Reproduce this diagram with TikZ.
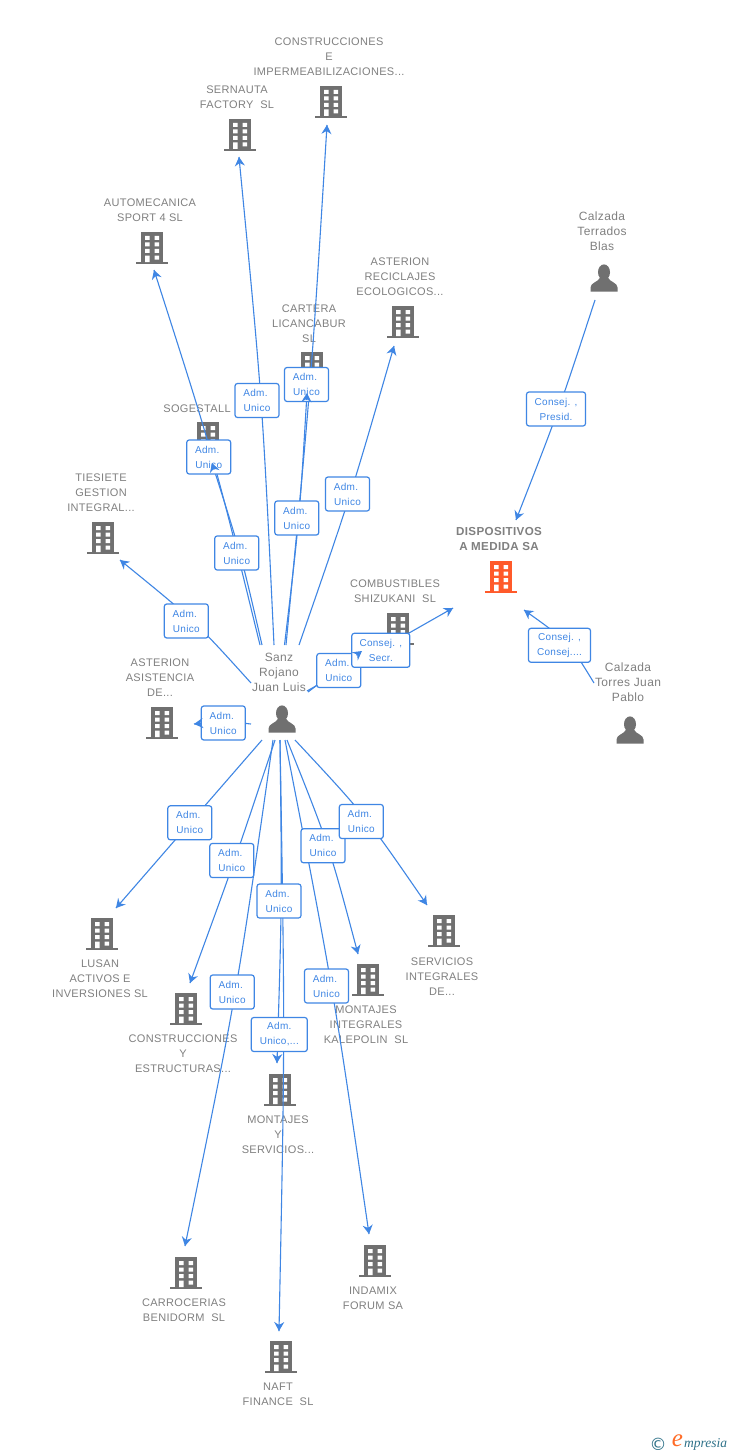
\documentclass[tikz,border=0pt]{standalone}
\usepackage{fontspec}
\usetikzlibrary{arrows.meta,calc}
\newfontfamily\lblfont[LetterSpace=3]{Liberation Sans}
\newfontfamily\logofont{Liberation Serif}
\newfontfamily\copyfont{DejaVu Sans}
\definecolor{lnkblue}{HTML}{3F86E4}
\definecolor{icongray}{HTML}{707070}
\definecolor{lblgray}{HTML}{808080}
\definecolor{iconorange}{HTML}{FF5A2A}
\definecolor{logoteal}{HTML}{2F7289}
\pgfdeclarelayer{lines}
\pgfdeclarelayer{boxes}
\pgfdeclarelayer{tips}
\pgfsetlayers{main,lines,boxes,tips}
\tikzset{
  lbl/.style={text=lblgray,align=center,inner sep=0pt,yshift=-1pt,font=\lblfont\fontsize{11}{15}\selectfont},
  perlbl/.style={text=lblgray,align=center,inner sep=0pt,font=\lblfont\fontsize{12}{15}\selectfont},
  mainlbl/.style={text=lblgray,align=center,inner sep=0pt,yshift=-1pt,font=\lblfont\bfseries\fontsize{11.6}{15}\selectfont},
  relbox/.style={draw=lnkblue,line width=1.2pt,fill=white,rounded corners=2.5pt,minimum height=34pt,inner sep=0pt,text=lnkblue,align=center,font=\lblfont\fontsize{10}{15}\selectfont,execute at begin node=\rule{0pt}{10pt}},
  linkline/.style={draw=lnkblue,line width=1.1pt},
  linktip/.style={draw=lnkblue,line width=1.1pt,-{Stealth[length=9pt,width=10pt,inset=3pt]}},
}
\newcommand{\bldg}[4]{% name, x, y, colour
  \coordinate (#1) at (#2,#3);
  \begin{scope}[shift={(#2,#3)}]
    \fill[#4] (-11,-16) rectangle (11,14);
    \fill[#4] (-16,14) rectangle (16,16);
    \fill[white] (-7,-12) rectangle (-2.5,-8) (2.5,-12) rectangle (7,-8)
      (-7,-5.5) rectangle (-2.5,-1.5) (2.5,-5.5) rectangle (7,-1.5)
      (-7,1) rectangle (-2.5,5) (2.5,1) rectangle (7,5)
      (-7,7.5) rectangle (-2.5,14) (2.5,7.5) rectangle (7,11.5);
  \end{scope}}
\newcommand{\persona}[3]{% name, x, y
  \coordinate (#1) at (#2,#3);
  \begin{scope}[shift={(#2,#3)}]
    \fill[icongray] (0,-5.8) ellipse (6 and 7.8);
    \fill[icongray] (-13.5,13.5) -- (-13.5,9.5) .. controls (-13.5,4.5) and (-6,4.5) .. (-3.5,-1)
      -- (3.5,-1) .. controls (6,4.5) and (13.5,4.5) .. (13.5,9.5) -- (13.5,13.5) -- cycle;
  \end{scope}}
\newcommand{\lnk}[7]{% id, start, control, end, box centre, box width, text
  \coordinate (#1s) at (#2);
  \coordinate (#1c) at (#3);
  \coordinate (#1e) at (#4);
  \begin{pgfonlayer}{lines}
    \draw[linkline] (#1s) .. controls (#1c) .. (#1e);
  \end{pgfonlayer}
  \begin{pgfonlayer}{boxes}
    \node[relbox,minimum width=#6] (#1box) at (#5) {#7};
  \end{pgfonlayer}
  \begin{pgfonlayer}{tips}
    \draw[linktip] ($(#1e)!7pt!(#1c)$) -- (#1e);
  \end{pgfonlayer}}
\newcommand{\au}{Adm.\hspace*{3pt}\\Unico}
\begin{document}
\begin{tikzpicture}[x=1pt,y=-1pt]
\fill[white] (0,0) rectangle (728,1455);
\useasboundingbox (0,0) rectangle (728,1455);

% companies
\bldg{bConstr}{331}{102}{icongray}
\bldg{bSern}{240}{135}{icongray}
\bldg{bAuto}{152}{248}{icongray}
\bldg{bRecic}{403}{322}{icongray}
\bldg{bCart}{312}{368}{icongray}
\bldg{bSoge}{208}{438}{icongray}
\bldg{bTies}{103}{538}{icongray}
\bldg{bAsis}{162}{723}{icongray}
\bldg{bComb}{398}{629}{icongray}
\bldg{bDisp}{501}{577}{iconorange}
\bldg{bLusan}{102}{934}{icongray}
\bldg{bConY}{186}{1009}{icongray}
\bldg{bMonY}{280}{1090}{icongray}
\bldg{bCarr}{186}{1273}{icongray}
\bldg{bNaft}{281}{1357}{icongray}
\bldg{bInda}{375}{1261}{icongray}
\bldg{bMonI}{368}{980}{icongray}
\bldg{bServ}{444}{931}{icongray}
% people
\persona{pSanz}{282}{719}
\persona{pTerr}{604}{278}
\persona{pTorr}{630}{730}

% labels
\node[lbl] (tConstr) at (329,56) {CONSTRUCCIONES\\E\\IMPERMEABILIZACIONES...};
\node[lbl] (tSern) at (237,96.5) {SERNAUTA\\FACTORY~~SL};
\node[lbl] (tAuto) at (150,209.5) {AUTOMECANICA\\SPORT 4 SL};
\node[lbl] (tRecic) at (400,276) {ASTERION\\RECICLAJES\\ECOLOGICOS...};
\node[lbl] (tCart) at (309,323) {CARTERA\\LICANCABUR\\SL};
\node[lbl] (tSoge) at (197,408) {SOGESTALL};
\node[lbl] (tTies) at (101,492) {TIESIETE\\GESTION\\INTEGRAL...};
\node[lbl] (tAsis) at (160,677) {ASTERION\\ASISTENCIA\\DE...};
\node[lbl] (tComb) at (395,590.5) {COMBUSTIBLES\\SHIZUKANI~~SL};
\node[mainlbl] (tDisp) at (499,538.5) {DISPOSITIVOS\\A MEDIDA SA};
\node[perlbl] (tTerr) at (602,231) {Calzada\\Terrados\\Blas};
\node[perlbl] (tTorr) at (628,682) {Calzada\\Torres Juan\\Pablo};
\node[perlbl] (tSanz) at (279,672) {Sanz\\Rojano\\Juan Luis};
\node[lbl] (tLusan) at (100,978) {LUSAN\\ACTIVOS E\\INVERSIONES SL};
\node[lbl] (tConY) at (183,1053) {CONSTRUCCIONES\\Y\\ESTRUCTURAS...};
\node[lbl] (tMonY) at (278,1134) {MONTAJES\\Y\\SERVICIOS...};
\node[lbl] (tCarr) at (184,1309.5) {CARROCERIAS\\BENIDORM~~SL};
\node[lbl] (tNaft) at (278,1393.5) {NAFT\\FINANCE~~SL};
\node[lbl] (tInda) at (373,1297.5) {INDAMIX\\FORUM SA};
\node[lbl] (tMonI) at (366,1024) {MONTAJES\\INTEGRALES\\KALEPOLIN~~SL};
\node[lbl] (tServ) at (442,976) {SERVICIOS\\INTEGRALES\\DE...};

% connectors
\lnk{a1}{286,645}{311,385}{327,125}{306.5,384.5}{44pt}{\au}
\lnk{a2}{274,645}{262.5,401}{239,157}{257,400.5}{44pt}{\au}
\lnk{a3}{260,645}{214,457}{154,270}{208.7,457}{44pt}{\au}
\lnk{a4}{262,645}{241,554}{212,463}{236.7,553}{44pt}{\au}
\lnk{a5}{284.5,645}{299.5,519}{307,393}{296.8,518}{44pt}{\au}
\lnk{a6}{299,645}{351,495}{394,346}{347.5,494}{44pt}{\au}
\lnk{a7}{251,683}{195,621}{120,560}{186.3,621}{44pt}{\au}
\lnk{a8}{251,724}{223,721}{194,724}{223.3,723}{44pt}{\au}
\lnk{a9}{308,692}{335,671}{362,651}{338.8,670.5}{44pt}{\au}
\lnk{d1}{307,691}{380,650}{453,608}{380.8,650.3}{58pt}{Consej. ,\\Secr.}
\lnk{d2}{595,300}{559,410}{516,520}{556,409}{59pt}{Consej. ,\\Presid.}
\lnk{d3}{594,683}{569,642}{524,610}{559.5,645.3}{62pt}{Consej. ,\\Consej....}
\lnk{b1}{262,740}{189,824}{116,908}{189.8,822.8}{44pt}{\au}
\lnk{b2}{275,740}{235,860}{190,983}{231.8,860.5}{44pt}{\au}
\lnk{b3}{273,740}{237,993}{185,1246}{232.2,992}{44pt}{\au}
\lnk{b4}{280,740}{285,1035}{279,1331}{279.3,1034.5}{56pt}{Adm.\\Unico,...}
\lnk{b5}{280,740}{282,901}{277,1063}{279,901}{44pt}{\au}
\lnk{b6}{285,740}{333,987}{369,1234}{326.5,986}{44pt}{\au}
\lnk{b7}{287,740}{329,845}{358,954}{323,845.8}{44pt}{\au}
\lnk{b8}{295,740}{365,815}{427,905}{361.3,821.5}{44pt}{\au}

% logo
\node[inner sep=0pt,text=logoteal,font=\copyfont\fontsize{17}{17}\selectfont] (logoc) at (658,1444) {©};
\node[inner sep=0pt,text=iconorange!90!yellow,font=\logofont\itshape\fontsize{25}{25}\selectfont] (logoe) at (677.5,1441) {e};
\node[inner sep=0pt,anchor=west,text=logoteal,font=\logofont\itshape\fontsize{13.5}{14}\selectfont] (logot) at (684,1444) {mpresia};
\end{tikzpicture}
\end{document}
